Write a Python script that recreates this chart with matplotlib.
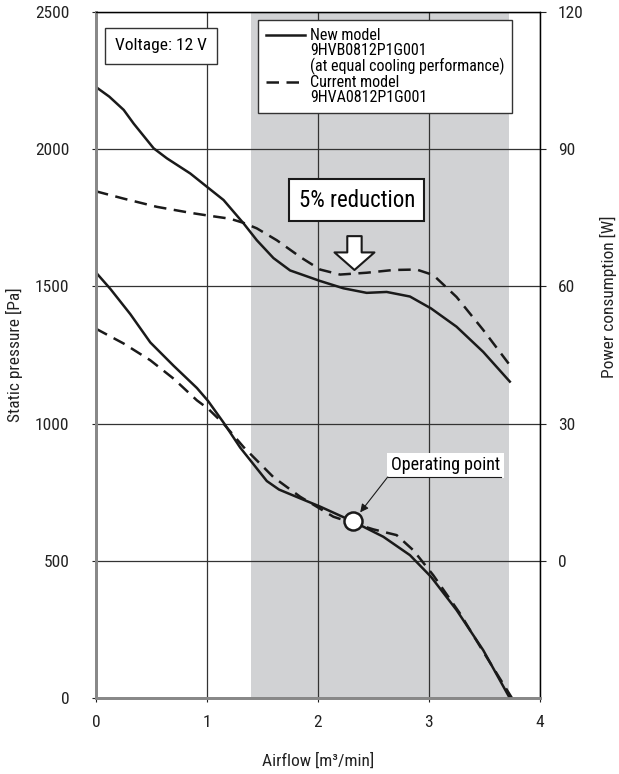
import matplotlib
matplotlib.use("Agg")
import matplotlib.pyplot as plt
from matplotlib.lines import Line2D

plt.rcParams['font.family'] = ['Roboto Condensed', 'DejaVu Sans']
plt.rcParams['font.size'] = 11.5

# airflow [m3/min] vs static pressure [Pa]
new_p_x = [0.0, 0.13, 0.31, 0.49, 0.70, 0.91, 1.01, 1.15, 1.30, 1.54, 1.65, 1.84, 2.02,
           2.32, 2.59, 2.83, 3.02, 3.25, 3.49, 3.73]
new_p_y = [1551, 1491, 1399, 1296, 1211, 1130, 1083, 1004, 913, 791, 760, 728, 698,
           643, 588, 521, 442, 321, 175, 0]
cur_p_x = [0.0, 0.25, 0.49, 0.70, 0.91, 1.01, 1.15, 1.33, 1.60, 1.84, 2.14, 2.23,
           2.50, 2.71, 2.86, 3.04, 3.28, 3.52, 3.75]
cur_p_y = [1346, 1292, 1231, 1164, 1085, 1055, 1000, 915, 805, 734, 661, 649,
           615, 594, 539, 448, 309, 150, 0]

# airflow vs power consumption [W]
new_w_x = [0.0, 0.12, 0.25, 0.34, 0.52, 0.64, 0.85, 1.01, 1.15, 1.33, 1.45, 1.60, 1.75, 2.02,
           2.23, 2.44, 2.62, 2.83, 3.02, 3.25, 3.49, 3.73]
new_w_y = [103.6, 101.5, 98.6, 95.6, 90.2, 88.0, 84.7, 81.6, 78.9, 73.8, 70.1, 66.2, 63.5, 61.2,
           59.6, 58.6, 58.8, 57.8, 55.2, 51.2, 45.7, 39.2]
cur_w_x = [0.0, 0.25, 0.55, 0.85, 1.01, 1.21, 1.33, 1.45, 1.63, 1.85, 2.02, 2.20,
           2.44, 2.68, 2.89, 3.04, 3.25, 3.49, 3.73]
cur_w_y = [80.8, 79.2, 77.4, 76.1, 75.5, 74.8, 73.9, 72.7, 70.1, 66.3, 63.7, 62.6,
           63.0, 63.6, 63.7, 62.5, 57.7, 50.5, 42.8]

op_x, op_y = 2.32, 645
span_lo, span_hi = 1.4, 3.72

fig = plt.figure(figsize=(6.19, 7.74), dpi=100)
ax = fig.add_axes([0.155, 0.098, 0.717, 0.8865])
ax2 = ax.twinx()

ax.axvspan(span_lo, span_hi, color='#d1d2d4', lw=0, zorder=0)
ax.grid(True, color='#333333', lw=0.9)
ax.set_axisbelow(True)

ax.plot(new_p_x, new_p_y, color='#1a1a1a', lw=1.8, zorder=3)
ax.plot(cur_p_x, cur_p_y, color='#1a1a1a', lw=1.8, ls=(0, (5, 3)), zorder=3)
ax.plot([op_x], [op_y], 'o', ms=13, mfc='white', mec='#1a1a1a', mew=1.8, zorder=5)

ax2.plot(new_w_x, new_w_y, color='#1a1a1a', lw=1.8)
ax2.plot(cur_w_x, cur_w_y, color='#1a1a1a', lw=1.8, ls=(0, (5, 3)))

ax.set_xlim(0, 4)
ax.set_ylim(0, 2500)
ax2.set_ylim(-30, 120)
ax.set_xticks([0, 1, 2, 3, 4])
ax.set_yticks([0, 500, 1000, 1500, 2000, 2500])
ax2.set_yticks([0, 30, 60, 90, 120])
ax.tick_params(axis='y', length=3, pad=16, colors='#222222', labelsize=12.5)
ax.tick_params(axis='x', length=3, pad=9, colors='#222222', labelsize=12.5)
ax2.tick_params(axis='y', length=4, pad=9, colors='#222222', labelsize=12.5)
ax.set_xlabel('Airflow [m³/min]', color='#222222', fontsize=12.5)
ax.xaxis.set_label_coords(0.5, -0.08)
ax.set_ylabel('Static pressure [Pa]', color='#222222', fontsize=12.5)
ax.yaxis.set_label_coords(-0.165, 0.5)
ax2.set_ylabel('Power consumption [W]', color='#222222', fontsize=12.5)
ax2.yaxis.set_label_coords(1.135, 0.585)

for a in (ax, ax2):
    a.spines['left'].set_color('#888888')
    a.spines['left'].set_linewidth(2)
    a.spines['bottom'].set_color('#888888')
    a.spines['bottom'].set_linewidth(2)
    a.spines['top'].set_linewidth(0.9)
    a.spines['right'].set_linewidth(0.9)

# operating point label with underline leader
lab_x, lab_y = 2.63, 806
ax.text(lab_x + 0.03, lab_y + 10, 'Operating point', ha='left', va='bottom', fontsize=13, zorder=6,
        bbox=dict(boxstyle='square,pad=0.2', fc='white', ec='none'))
ax.plot([lab_x, lab_x + 1.02], [lab_y, lab_y], color='#1a1a1a', lw=0.8, zorder=6)
ax.annotate('', xy=(op_x, op_y), xytext=(lab_x, lab_y), zorder=6,
            arrowprops=dict(arrowstyle='-|>', color='#1a1a1a', lw=0.8,
                            shrinkA=0, shrinkB=8, mutation_scale=12))

# 5% reduction box and hollow arrow
ax2.text(2.35, 78.9, '5% reduction', ha='center', va='center', fontsize=16.5,
         bbox=dict(boxstyle='square,pad=0.4', fc='white', ec='#1a1a1a', lw=1.5))
ax2.annotate('', xy=(2.33, 63.6), xytext=(2.33, 71.0),
             arrowprops=dict(arrowstyle='simple,head_width=2.5,head_length=1.1,tail_width=0.9',
                             fc='white', ec='#1a1a1a', lw=1.5, shrinkA=0, shrinkB=0))

ax2.text(0.043, 0.951, 'Voltage: 12 V', transform=ax2.transAxes, ha='left', va='center',
         fontsize=12.5, bbox=dict(boxstyle='square,pad=0.6', fc='white', ec='#333333', lw=1))

handles = [Line2D([], [], color='#1a1a1a', lw=1.8),
           Line2D([], [], lw=0),
           Line2D([], [], lw=0),
           Line2D([], [], color='#1a1a1a', lw=1.8, ls=(0, (5, 3))),
           Line2D([], [], lw=0)]
labels = ['New model', '9HVB0812P1G001', '(at equal cooling performance)',
          'Current model', '9HVA0812P1G001']
leg = ax2.legend(handles, labels, loc='upper left', bbox_to_anchor=(0.365, 0.988),
                 borderaxespad=0, fancybox=False, edgecolor='#333333', framealpha=1,
                 fontsize=11.5, labelspacing=0.0, handlelength=2.45, handletextpad=0.3,
                 borderpad=0.5)
leg.get_frame().set_linewidth(1)

fig.savefig('out.png', dpi=100)
